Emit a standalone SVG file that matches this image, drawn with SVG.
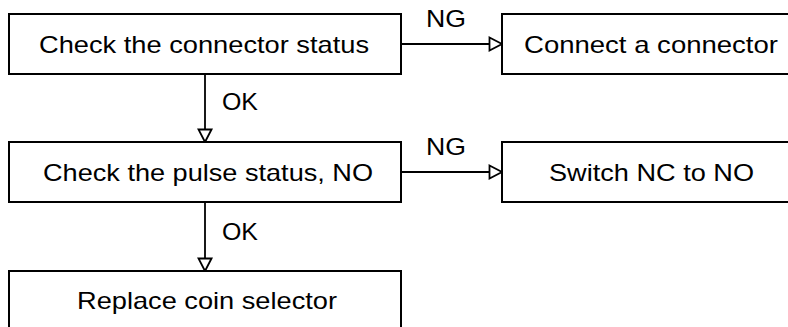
<svg xmlns="http://www.w3.org/2000/svg" width="788" height="327" viewBox="0 0 788 327">
<defs>
<style>
.box{fill:#fff;stroke:#000;stroke-width:2}
.t{font-family:"Liberation Sans",Arial,sans-serif;font-size:24px;fill:#000}
.c{stroke:#000;stroke-width:1.8;fill:none}
</style>
<marker id="arr" markerWidth="16" markerHeight="16" refX="14" refY="8" orient="auto" markerUnits="userSpaceOnUse" viewBox="0 0 16 16">
<path d="M1.5,1.5 L14,8 L1.5,14.5 Z" fill="#fff" stroke="#000" stroke-width="1.8"/>
</marker>
</defs>
<rect width="788" height="327" fill="#fff"/>
<g id="connectors">
<line class="c" x1="401" y1="44" x2="502" y2="44" marker-end="url(#arr)"/>
<line class="c" x1="401" y1="172" x2="502" y2="172" marker-end="url(#arr)"/>
<line class="c" x1="205" y1="74" x2="205" y2="142" marker-end="url(#arr)"/>
<line class="c" x1="205" y1="202" x2="205" y2="271" marker-end="url(#arr)"/>
<text class="t" x="426" y="27" textLength="40" lengthAdjust="spacingAndGlyphs">NG</text>
<text class="t" x="426" y="155" textLength="40" lengthAdjust="spacingAndGlyphs">NG</text>
<text class="t" x="222" y="110" textLength="36" lengthAdjust="spacingAndGlyphs">OK</text>
<text class="t" x="222" y="240" textLength="36" lengthAdjust="spacingAndGlyphs">OK</text>
</g>
<g id="n1">
<rect class="box" x="9" y="14" width="392" height="60"/>
<text class="t" x="39" y="53" textLength="330" lengthAdjust="spacingAndGlyphs">Check the connector status</text>
</g>
<g id="n2">
<rect class="box" x="502" y="14" width="300" height="60"/>
<text class="t" x="524" y="53" textLength="254" lengthAdjust="spacingAndGlyphs">Connect a connector</text>
</g>
<g id="n3">
<rect class="box" x="9" y="142" width="392" height="60"/>
<text class="t" x="43" y="181" textLength="330" lengthAdjust="spacingAndGlyphs">Check the pulse status, NO</text>
</g>
<g id="n4">
<rect class="box" x="502" y="142" width="300" height="60"/>
<text class="t" x="549" y="181" textLength="205" lengthAdjust="spacingAndGlyphs">Switch NC to NO</text>
</g>
<g id="n5">
<rect class="box" x="9" y="271" width="392" height="70"/>
<text class="t" x="77" y="309" textLength="260" lengthAdjust="spacingAndGlyphs">Replace coin selector</text>
</g>
</svg>
